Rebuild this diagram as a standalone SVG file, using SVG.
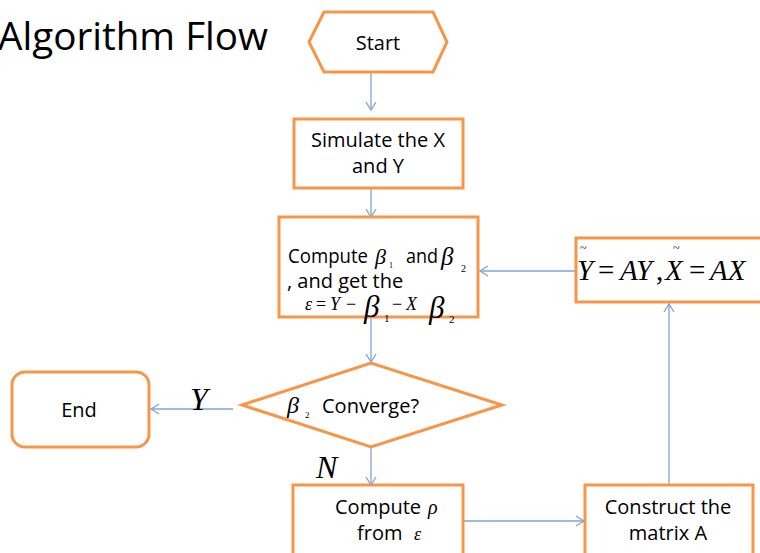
<svg xmlns="http://www.w3.org/2000/svg" width="760" height="553" viewBox="0 0 760 553">
<defs>
<style>
.box{fill:#fff;stroke:#f79646;stroke-width:3}
.ln{fill:none;stroke:#7ba4d6;stroke-width:1.3}
.t{font-family:"Open Sans","Liberation Sans",sans-serif;font-size:20px;fill:#000}
.m{font-family:"Liberation Serif","Times New Roman",serif;font-style:italic;fill:#000}
.u{font-family:"Liberation Serif","Times New Roman",serif;fill:#000}
</style>
<marker id="ah" markerUnits="userSpaceOnUse" markerWidth="12" markerHeight="12" viewBox="-10 -6 12 12" refX="0" refY="0" orient="auto">
<path d="M-8,-5 L0,0 L-8,5" fill="none" stroke="#7ba4d6" stroke-width="1.3"/>
</marker>
</defs>
<rect width="760" height="553" fill="#fff"/>
<text x="-2" y="50" font-family="'Open Sans','Liberation Sans',sans-serif" font-size="39" textLength="270" lengthAdjust="spacingAndGlyphs">Algorithm Flow</text>

<g id="connectors">
<line class="ln" x1="371" y1="73" x2="371" y2="110" marker-end="url(#ah)"/>
<line class="ln" x1="371" y1="189" x2="371" y2="217" marker-end="url(#ah)"/>
<line class="ln" x1="576" y1="271" x2="480" y2="271" marker-end="url(#ah)"/>
<line class="ln" x1="371" y1="318" x2="371" y2="362" marker-end="url(#ah)"/>
<line class="ln" x1="233" y1="409" x2="151" y2="409" marker-end="url(#ah)"/>
<text class="m" x="190" y="410" font-size="32">Y</text>
<line class="ln" x1="371" y1="448" x2="371" y2="485" marker-end="url(#ah)"/>
<text class="m" x="316" y="478" font-size="32">N</text>
<line class="ln" x1="464" y1="521" x2="584" y2="521" marker-end="url(#ah)"/>
<line class="ln" x1="669" y1="484" x2="669" y2="304" marker-end="url(#ah)"/>
</g>

<g id="start">
<polygon class="box" points="309,42 324,12 433,12 447,42 433,72 324,72"/>
<text class="t" x="378" y="50" text-anchor="middle">Start</text>
</g>

<g id="simulate">
<rect class="box" x="294" y="119" width="169" height="69"/>
<text class="t" x="378" y="147" text-anchor="middle">Simulate the X</text>
<text class="t" x="378" y="173" text-anchor="middle">and Y</text>
</g>

<g id="compute-beta">
<rect class="box" x="279" y="217" width="199" height="100"/>
<text class="t" x="288" y="263" textLength="80" lengthAdjust="spacingAndGlyphs">Compute</text>
<text class="m" x="375" y="264" font-size="22">β</text>
<text class="u" x="389" y="268" font-size="8">1</text>
<text class="t" x="406" y="263" textLength="32" lengthAdjust="spacingAndGlyphs">and</text>
<text class="m" x="441" y="265" font-size="25">β</text>
<text class="u" x="461" y="272" font-size="10">2</text>
<text class="t" x="287" y="288">, and get the</text>
<text class="m" x="305" y="310" font-size="18">ε</text>
<text class="u" x="316" y="310" font-size="18">=</text>
<text class="m" x="330" y="310" font-size="18">Y</text>
<text class="u" x="346" y="310" font-size="18">−</text>
<text class="m" x="364" y="317" font-size="31">β</text>
<text class="u" x="384" y="322" font-size="11">1</text>
<text class="u" x="392" y="310" font-size="18">−</text>
<text class="m" x="406" y="310" font-size="18">X</text>
<text class="m" x="429" y="318" font-size="31">β</text>
<text class="u" x="449" y="323" font-size="11">2</text>
</g>

<g id="transform">
<rect class="box" x="576" y="238" width="186" height="64"/>
<text class="u" x="580" y="252" font-size="12">~</text>
<text class="m" x="577" y="280" font-size="29">Y</text>
<text class="u" x="598" y="280" font-size="29">=</text>
<text class="m" x="620" y="280" font-size="29">AY</text>
<text class="u" x="656" y="280" font-size="29">,</text>
<text class="u" x="673" y="252" font-size="12">~</text>
<text class="m" x="665" y="280" font-size="29">X</text>
<text class="u" x="689" y="280" font-size="29">=</text>
<text class="m" x="710" y="280" font-size="29">AX</text>
</g>

<g id="converge">
<polygon class="box" points="242,405 371,363 502,405 371,447"/>
<text class="m" x="287" y="413" font-size="24">β</text>
<text class="u" x="305" y="418" font-size="9">2</text>
<text class="t" x="322" y="413">Converge?</text>
</g>

<g id="end">
<rect class="box" x="12" y="372" width="137" height="75" rx="13"/>
<text class="t" x="79" y="417" text-anchor="middle">End</text>
</g>

<g id="compute-rho">
<rect class="box" x="293" y="485" width="170" height="80"/>
<text class="t" x="335" y="514">Compute</text>
<text class="m" x="428" y="514" font-size="20">ρ</text>
<text class="t" x="357" y="540">from</text>
<text class="m" x="414" y="540" font-size="18">ε</text>
</g>

<g id="construct">
<rect class="box" x="585" y="485" width="168" height="80"/>
<text class="t" x="668" y="514" text-anchor="middle">Construct the</text>
<text class="t" x="668" y="540" text-anchor="middle">matrix A</text>
</g>
</svg>
